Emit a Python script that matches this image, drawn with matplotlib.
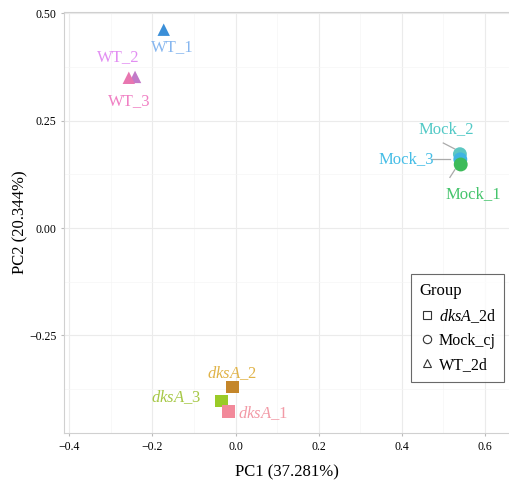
import matplotlib.pyplot as plt
from matplotlib.lines import Line2D

plt.rcParams['font.family'] = ['Liberation Serif', 'DejaVu Serif']
plt.rcParams['mathtext.fontset'] = 'custom'
plt.rcParams['mathtext.it'] = 'Liberation Serif:italic'
plt.rcParams['mathtext.rm'] = 'Liberation Serif'

# sample scores
samples = ['WT_1', 'WT_2', 'WT_3', 'Mock_2', 'Mock_3', 'Mock_1', 'dksA_2', 'dksA_3', 'dksA_1']
pc1 = [-0.173, -0.242, -0.257, 0.540, 0.541, 0.542, -0.007, -0.034, -0.017]
pc2 = [0.462, 0.352, 0.350, 0.172, 0.160, 0.148, -0.371, -0.403, -0.427]
groups = ['WT_2d'] * 3 + ['Mock_cj'] * 3 + ['dksA_2d'] * 3

marker_of = {'dksA_2d': 's', 'Mock_cj': 'o', 'WT_2d': '^'}
point_col = ['#3b8fd8', '#c27ac8', '#e876b0', '#5cc7c2', '#3fb4e2', '#3dbb5a',
             '#c4862a', '#9acb28', '#f2899a']
label_col = ['#86b6ef', '#e28ef2', '#f080c4', '#52c9c6', '#45bde6', '#45c46c',
             '#e0b348', '#a6c846', '#f29aa6']
# label anchor offsets in data units
label_dx = [0.02, -0.04, 0.002, -0.032, -0.13, 0.03, -0.001, -0.108, 0.083]
label_dy = [-0.04, 0.045, -0.054, 0.058, 0.0, -0.068, 0.032, 0.008, -0.005]

fig = plt.figure(figsize=(5.1, 4.84), dpi=100)
ax = fig.add_axes([0.1255, 0.105, 0.874, 0.87])

for i, s in enumerate(samples):
    size = 100 if groups[i] == 'Mock_cj' else 80
    ax.scatter(pc1[i], pc2[i], marker=marker_of[groups[i]], s=size, color=point_col[i],
               edgecolors='none', zorder=3)
    txt = s.replace('dksA', r'$\it{dksA}$')
    ax.text(pc1[i] + label_dx[i], pc2[i] + label_dy[i], txt, color=label_col[i],
            fontsize=12, ha='center', va='center', zorder=4)

# leader lines for the mock labels
ax.plot([0.47, 0.515], [0.160, 0.160], color='#aaaaaa', lw=0.9, zorder=2)
ax.plot([0.50, 0.528], [0.198, 0.184], color='#aaaaaa', lw=0.9, zorder=2)
ax.plot([0.528, 0.516], [0.136, 0.118], color='#aaaaaa', lw=0.9, zorder=2)

ax.set_xlim(-0.413, 0.66)
ax.set_ylim(-0.478, 0.503)
ax.set_xticks([-0.4, -0.2, 0.0, 0.2, 0.4, 0.6])
ax.set_xticklabels(['−0.4', '−0.2', '0.0', '0.2', '0.4', '0.6'])
ax.set_yticks([-0.25, 0.0, 0.25, 0.5])
ax.set_yticklabels(['−0.25', '0.00', '0.25', '0.50'])
ax.set_xticks([-0.3, -0.1, 0.1, 0.3, 0.5], minor=True)
ax.set_yticks([-0.375, -0.125, 0.125, 0.375], minor=True)
ax.grid(True, which='major', color='#ebebeb', lw=0.8)
ax.grid(True, which='minor', color='#f5f5f5', lw=0.5)
ax.set_axisbelow(True)
ax.tick_params(which='major', labelsize=8.5, length=2.5, color='#bbbbbb', pad=3)
ax.tick_params(which='minor', length=0)
for sp in ax.spines.values():
    sp.set_color('#d0d0d0')
    sp.set_linewidth(0.8)

ax.set_xlabel('PC1 (37.281%)', fontsize=12, labelpad=8)
ax.set_ylabel('PC2 (20.344%)', fontsize=12)
ax.yaxis.set_label_coords(-0.08, 0.5)

handles = [Line2D([], [], marker=marker_of[g], ls='none', mfc='none', mec='#333333',
                  ms=6, mew=0.8) for g in ['dksA_2d', 'Mock_cj', 'WT_2d']]
leg = ax.legend(handles, [r'$\it{dksA}$_2d', 'Mock_cj', 'WT_2d'], title='Group',
                loc='upper right', bbox_to_anchor=(1.006, 0.396), fontsize=11.5,
                title_fontsize=12, frameon=True, fancybox=False, handletextpad=0.2,
                handlelength=1.0, borderpad=0.55, labelspacing=0.5)
leg.get_frame().set_edgecolor('#444444')
leg.get_frame().set_linewidth(0.8)
leg._legend_box.align = 'left'

fig.savefig('out.png', dpi=100)
